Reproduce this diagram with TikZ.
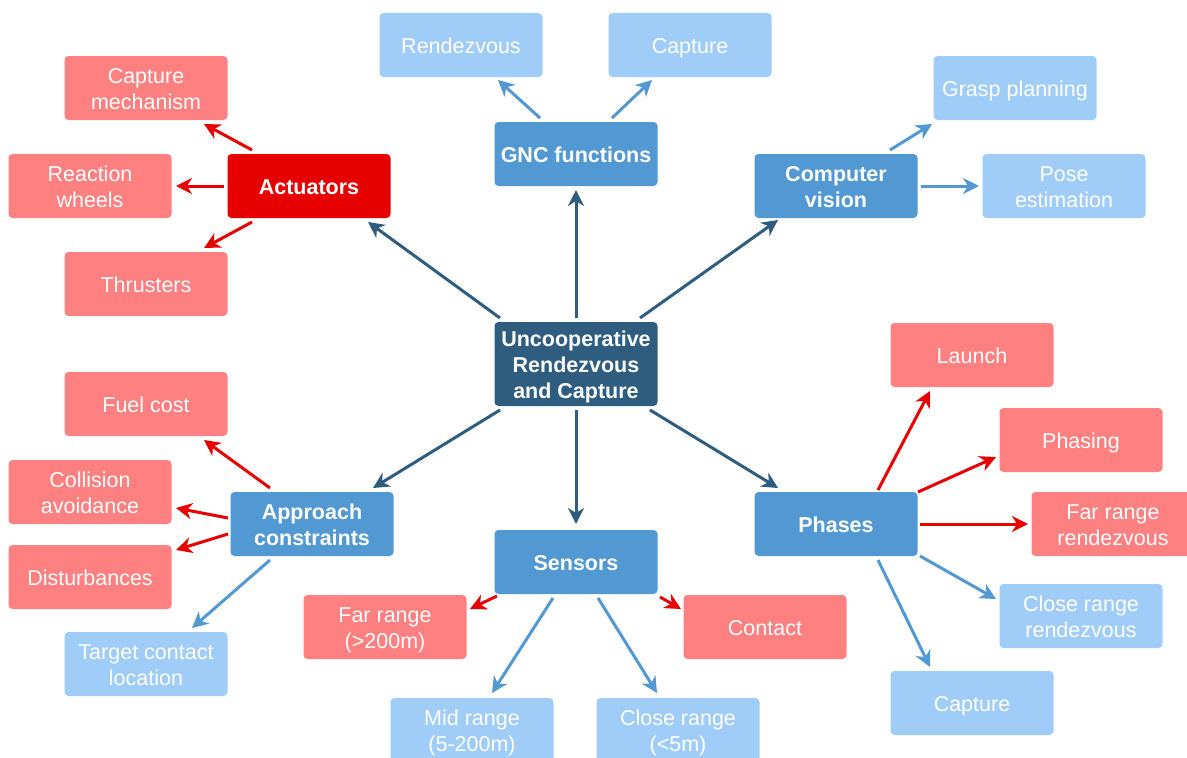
\documentclass[tikz,border=0pt]{standalone}
\usepackage{fontspec}
\setmainfont{Liberation Sans}
\usetikzlibrary{arrows.meta}
\definecolor{salmon}{HTML}{FF8080}
\definecolor{actred}{HTML}{E60000}
\definecolor{lightblue}{HTML}{A0CDF7}
\definecolor{midblue}{HTML}{5299D3}
\definecolor{darkblue}{HTML}{2F5D80}
% fixed first-line height and last-line depth, so every label sits centred
\newcommand{\tx}[1]{\rule{0pt}{21pt}#1\rule[-5pt]{0pt}{5pt}}
\tikzset{
  box/.style={rectangle, rounded corners=4pt, minimum width=163pt, minimum height=64pt,
    inner sep=2pt, align=center, text=white, font=\fontsize{21.5}{26}\selectfont},
  leaf/.style={box, fill=salmon},
  leafblue/.style={box, fill=lightblue},
  hub/.style={box, fill=midblue, font=\fontsize{21.5}{26}\selectfont\bfseries},
  hubred/.style={hub, fill=actred},
  core/.style={box, fill=darkblue, minimum height=84pt, font=\fontsize{21.5}{26}\selectfont\bfseries},
  link/.style={line width=3pt, -{Stealth[length=16pt,width=16pt,inset=5pt]}},
  dlink/.style={link, darkblue},
  rlink/.style={link, actred},
  blink/.style={link, midblue}
}
\newcommand{\at}[2]{([shift={(#2)}]#1.center)}
\begin{document}
\begin{tikzpicture}[x=1pt,y=-1pt]
\useasboundingbox (0,0) rectangle (1187,758);
\clip (0,0) rectangle (1187,758);

% central topic
\node[core] (c) at (576,364) {\tx{Uncooperative\\Rendezvous\\and Capture}};

% first ring
\node[hubred] (act) at (309,186) {\tx{Actuators}};
\node[hub] (gnc) at (576,154) {\tx{GNC functions}};
\node[hub] (cv) at (836,186) {\tx{Computer\\vision}};
\node[hub] (app) at (312,524) {\tx{Approach\\constraints}};
\node[hub] (sen) at (576,562) {\tx{Sensors}};
\node[hub] (ph) at (836,524) {\tx{Phases}};

% GNC functions
\node[leafblue] (rdv) at (461,45) {\tx{Rendezvous}};
\node[leafblue] (capt) at (690,45) {\tx{Capture}};

% actuators
\node[leaf] (mech) at (146,88) {\tx{Capture\\mechanism}};
\node[leaf] (rw) at (90,186) {\tx{Reaction\\wheels}};
\node[leaf] (thr) at (146,284) {\tx{Thrusters}};

% computer vision
\node[leafblue] (grasp) at (1015,88) {\tx{Grasp planning}};
\node[leafblue] (pose) at (1064,186) {\tx{Pose\\estimation}};

% approach constraints
\node[leaf] (fuel) at (146,404) {\tx{Fuel cost}};
\node[leaf] (coll) at (90,492) {\tx{Collision\\avoidance}};
\node[leaf] (dist) at (90,577) {\tx{Disturbances}};
\node[leafblue] (tcl) at (146,664) {\tx{Target contact\\location}};

% sensors
\node[leaf] (far) at (385,627) {\tx{Far range\\(>200m)}};
\node[leaf] (cont) at (765,627) {\tx{Contact}};
\node[leafblue] (mid) at (472,730) {\tx{Mid range\\(5-200m)}};
\node[leafblue] (close) at (678,730) {\tx{Close range\\(<5m)}};

% phases
\node[leaf] (lau) at (972,355) {\tx{Launch}};
\node[leaf] (pha) at (1081,440) {\tx{Phasing}};
\node[leaf] (frr) at (1113,524) {\tx{Far range\\rendezvous}};
\node[leafblue] (crr) at (1081,616) {\tx{Close range\\rendezvous}};
\node[leafblue] (capb) at (972,703) {\tx{Capture}};

% central links
\draw[dlink] \at{c}{-76,-46} -- \at{act}{59,36};
\draw[dlink] \at{c}{0,-46} -- \at{gnc}{0,36};
\draw[dlink] \at{c}{64,-46} -- \at{cv}{-58,34};
\draw[dlink] \at{c}{-76,46} -- \at{app}{61,-36};
\draw[dlink] \at{c}{0,46} -- \at{sen}{0,-38};
\draw[dlink] \at{c}{74,46} -- \at{ph}{-58,-36};

% GNC functions links
\draw[blink] \at{gnc}{-36,-36} -- \at{rdv}{37,35};
\draw[blink] \at{gnc}{36,-36} -- \at{capt}{-38,35};

% actuator links
\draw[rlink] \at{act}{-57,-36} -- \at{mech}{58,36};
\draw[rlink] \at{act}{-85,0} -- \at{rw}{86,0};
\draw[rlink] \at{act}{-57,36} -- \at{thr}{58,-36};

% computer vision links
\draw[blink] \at{cv}{54,-36} -- \at{grasp}{-83,36};
\draw[blink] \at{cv}{85,0} -- \at{pose}{-85,0};

% approach constraint links
\draw[rlink] \at{app}{-42,-36} -- \at{fuel}{58,36};
\draw[rlink] \at{app}{-84,-6} -- \at{coll}{86,16};
\draw[rlink] \at{app}{-84,10} -- \at{dist}{86,-27};
\draw[blink] \at{app}{-42,36} -- \at{tcl}{46,-36};

% sensor links
\draw[rlink] \at{sen}{-79,34} -- \at{far}{85,-18};
\draw[rlink] \at{sen}{84,35} -- \at{cont}{-84,-18};
\draw[blink] \at{sen}{-23,36} -- \at{mid}{20,-37};
\draw[blink] \at{sen}{22,36} -- \at{close}{-21,-37};

% phase links
\draw[rlink] \at{ph}{42,-34} -- \at{lau}{-42,36};
\draw[rlink] \at{ph}{82,-32} -- \at{pha}{-85,17};
\draw[rlink] \at{ph}{84,0} -- \at{frr}{-85,0};
\draw[blink] \at{ph}{84,32} -- \at{crr}{-85,-17};
\draw[blink] \at{ph}{42,36} -- \at{capb}{-42,-36};
\end{tikzpicture}
\end{document}
